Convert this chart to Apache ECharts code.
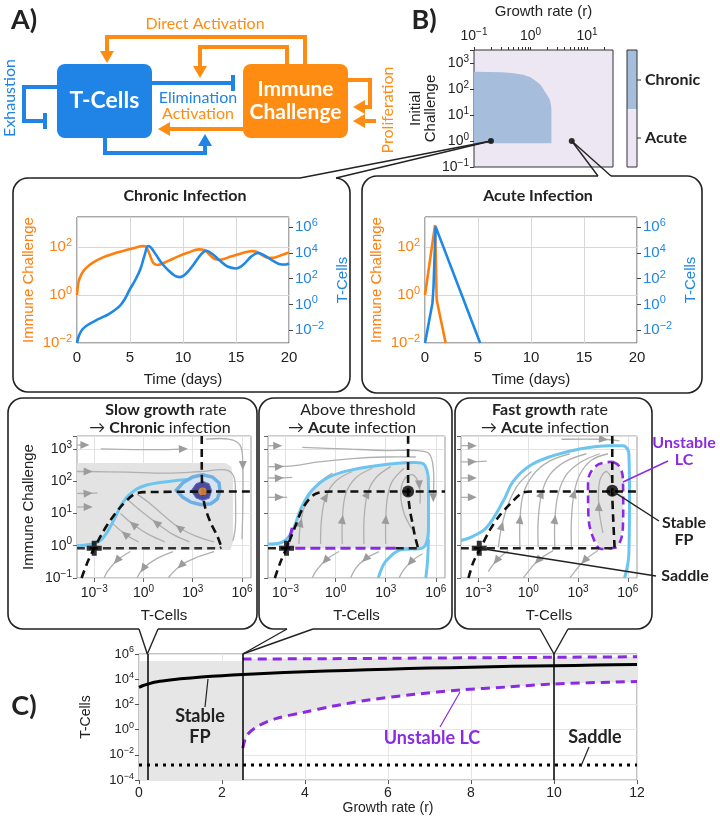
<!DOCTYPE html>
<html><head><meta charset="utf-8">
<script src="https://cdn.jsdelivr.net/npm/echarts@6/dist/echarts.min.js"></script>
<style>html,body{margin:0;padding:0;background:#fff}#c{width:720px;height:816px}</style>
</head><body><div id="c"></div>
<script>
// ---------------- DATA (log10 values) ----------------
// Panel B: heat map (x = log10 growth rate, y = log10 initial challenge)
const chronicRegion = [[-1,-0.09],[-1,2.66],[-0.5,2.64],[-0.3,2.61],[-0.13,2.55],[0.0,2.45],[0.1,2.3],[0.18,2.15],[0.25,1.91],[0.3,1.75],[0.34,1.6],[0.36,1.4],[0.37,1.22],[0.37,-0.09]];
const heatDots = [[-0.7,0],[0.73,0]];
const heatMajorTicks = [0.1,1,10];
const heatMinorTicks = [0.2,0.3,0.4,0.5,0.6,0.7,0.8,0.9,2,3,4,5,6,7,8,9,20];
// Time series [t, log10]
const chronicIC = [[0,0],[0.15,0.55],[0.4,0.85],[0.8,1.1],[1.5,1.35],[2.5,1.58],[3.5,1.73],[4.5,1.85],[5.5,1.97],[6.2,2.04],[6.5,2.02],[6.8,1.75],[7.2,1.33],[7.6,1.25],[8.5,1.4],[9.5,1.6],[10.5,1.77],[11.5,1.9],[12.0,1.88],[12.5,1.68],[13.0,1.5],[13.5,1.47],[14.5,1.6],[15.5,1.73],[16.5,1.83],[17.0,1.79],[17.5,1.65],[18.0,1.55],[18.5,1.55],[19.2,1.65],[20,1.77]];
const chronicTC = [[0,-3],[0.2,-2.4],[0.5,-1.95],[1,-1.6],[2,-1.15],[3,-0.75],[4,-0.15],[4.5,0.4],[5,1.2],[5.5,1.9],[6,2.8],[6.4,3.9],[6.7,4.55],[7.0,4.4],[7.5,3.8],[8.0,3.2],[8.5,2.75],[9.2,2.25],[9.7,2.12],[10.3,2.4],[11,3.1],[11.7,3.9],[12.2,4.17],[12.8,3.9],[13.5,3.39],[14.2,2.95],[15,2.8],[15.7,3.1],[16.4,3.7],[17.1,4.0],[17.7,3.8],[18.5,3.39],[19.3,3.1],[19.7,3.1],[20,3.2]];
const acuteIC = [[0,0],[0.95,2.92],[1.1,-0.2],[1.95,-2]];
const acuteTC = [[0,-3],[0.7,0.1],[0.8,1.3],[1.0,6.05],[5.2,-3]];
// Phase portraits (x = log10 T-cells, y = log10 immune challenge)
const p1Gray = [[-4.05,-0.13],[-4.05,2.56],[5.0,2.56],[5.35,2.45],[5.45,2.1],[5.45,0.1],[5.3,-0.13]];
const p1Cyan = [[-4.05,0.0],[-3.5,0.02],[-3,0.07],[-2.65,0.15],[-2.3,0.35],[-2.04,0.57],[-1.7,0.9],[-1.43,1.19],[-1.1,1.45],[-0.82,1.6],[-0.4,1.76],[0.2,1.88],[1.0,1.96],[2.0,2.02],[3.0,2.06],[3.85,2.05],[4.4,1.95],[4.6,1.75],[4.5,1.5],[4.1,1.32],[3.5,1.3],[2.8,1.4],[2.3,1.6]];
const p1RingOuter = [[2.0,1.72],[2.4,1.95],[3.0,2.13],[3.6,2.2],[4.2,2.13],[4.6,1.95],[4.66,1.7],[4.5,1.45],[4.1,1.3],[3.5,1.27],[2.9,1.35],[2.4,1.5],[2.0,1.72]];
const p1RingInner = [[2.9,1.7],[3.2,1.92],[3.6,2.0],[4.0,1.92],[4.16,1.7],[4.0,1.47],[3.6,1.4],[3.2,1.48],[2.9,1.7]];
const p1Center = [[3.6,1.68]];
const p1NullA = [[3.55,3.4],[3.55,2.4],[3.6,1.68],[3.75,1.2],[4.1,0.7],[4.5,0.3],[4.75,-0.05]];
const p1NullB = [[-4.05,-0.08],[4.6,-0.08],[4.75,-0.05]];
const p1NullC = [[-3.77,-1],[-3.4,-0.5],[-3,-0.08],[-2.5,0.4],[-2.04,0.77],[-1.4,1.2],[-0.62,1.58],[0,1.66],[6.55,1.68]];
const p1Saddle = [[-3,-0.08]];
const p1Streams = [
 [[-4.05,3.12],[-3.6,3.12]],
 [[-2.6,3.0],[-0.5,2.98],[1.5,2.98],[2.4,3.0]],
 [[-4.05,2.3],[-3.4,2.3],[-1,2.28],[1.5,2.25],[3.5,2.3],[5.0,2.35],[5.5,2.15],[5.6,1.6],[5.6,0.6],[5.45,0.15]],
 [[-4.05,1.62],[-3.4,1.62],[-2.8,1.64]],
 [[-4.05,1.2],[-3.4,1.2]],
 [[3.8,3.3],[5.2,3.3],[5.9,3.1],[6.05,2.5],[6.05,1.2],[6.0,0.2]],
 [[4.3,0.12],[3.2,0.3],[2.2,0.55],[1.2,0.95],[0.3,1.35],[-0.4,1.6]],
 [[2.8,0.12],[1.8,0.35],[0.8,0.7],[-0.1,1.05],[-0.9,1.4]],
 [[1.3,0.12],[0.3,0.35],[-0.6,0.65],[-1.4,1.0]],
 [[-0.3,0.12],[-1.1,0.35],[-1.9,0.7]],
 [[4.3,-0.18],[3.3,-0.35],[2.3,-0.6],[1.5,-1.0]],
 [[1.8,-0.18],[0.8,-0.4],[0,-0.7],[-0.4,-1.0]],
 [[-0.8,-0.18],[-1.6,-0.45],[-2.2,-0.8],[-2.4,-1]]
];
const p1Arrows = [1,3,1,1,1,3,2,2,2,1,2,2,1];

const p2Gray = [[-2.94,-0.08],[-2.64,0.41],[-2.04,1.19],[-1.44,1.7],[-0.44,2.12],[1.16,2.37],[3.56,2.55],[4.76,2.58],[5.36,2.48],[5.56,1.81],[5.56,0.57],[5.36,0.0],[4.76,-0.08]];
const p2CyanA = [[-4.05,0.05],[-3.24,0.1],[-2.64,0.41],[-2.04,1.19],[-1.44,1.7],[-0.44,2.12],[1.16,2.37],[3.56,2.55],[4.76,2.58],[5.36,2.48],[5.56,1.81],[5.56,0.57],[5.36,0.0],[4.76,-0.1],[3.7,-0.1]];
const p2CyanB = [[2.55,-1],[2.85,-0.6],[3.15,-0.4],[3.75,-0.15],[4.5,-0.09]];
const p2CyanC = [[5.4,-1],[5.5,-0.5],[5.56,0.2]];
const p2Purple = [[-2.6,0.55],[-2.75,0.25],[-2.94,-0.08],[3.6,-0.08]];
const p2NullA = [[4.34,3.4],[4.34,1.68],[4.45,1.1],[4.6,0.7],[4.75,0.3],[4.95,-0.1]];
const p2NullBLeft = [[-4.05,-0.08],[-2.94,-0.08]];
const p2NullBRight = [[3.6,-0.08],[4.95,-0.08]];
const p2NullC = [[-3.64,-1],[-3.3,-0.5],[-2.94,-0.07],[-2.44,0.57],[-1.94,1.19],[-1.24,1.6],[-0.24,1.68],[6.55,1.68]];
const p2Saddle = [[-2.94,-0.08]];
const p2FP = [[4.34,1.68]];
const p2Streams = [
 [[-4.05,3.1],[-3.5,3.1]],
 [[-2.0,3.05],[0.5,3.0],[3,2.95],[4.8,2.95],[5.6,2.85],[5.85,2.4],[5.85,1.5]],
 [[-4.05,2.45],[-3.4,2.45],[-2.2,2.5],[-1,2.6],[1,2.7],[3,2.75],[4.8,2.75]],
 [[-4.05,2.1],[-3.4,2.1],[-2.6,2.12]],
 [[-4.05,1.5],[-3.4,1.5],[-2.9,1.5]],
 [[-2.2,0.05],[-2.1,0.7],[-1.8,1.3],[-1.2,1.85],[-0.2,2.25]],
 [[-0.9,0.05],[-0.85,0.8],[-0.6,1.5],[0,2.0],[1,2.3]],
 [[0.4,0.05],[0.4,0.8],[0.6,1.6],[1.2,2.1],[2.2,2.4]],
 [[1.7,0.05],[1.7,0.8],[1.9,1.6],[2.4,2.1],[3.3,2.45]],
 [[3.0,0.05],[3.0,0.8],[3.1,1.5],[3.4,2.0],[4.1,2.4]],
 [[4.6,0.5],[4.1,1.0],[3.9,1.6],[4.1,2.05],[4.6,2.2],[5.0,1.9],[5.05,1.3]],
 [[2.6,-0.18],[1.8,-0.4],[1.2,-0.7],[0.9,-1.0]],
 [[0.2,-0.18],[-0.6,-0.45],[-1.2,-0.8],[-1.4,-1.0]],
 [[5.2,-0.25],[4.5,-0.5],[4.0,-0.8],[3.8,-1.0]]
];
const p2Arrows = [1,6,1,1,1,1,2,1,2,1,5,1,1,1];

const p3LC = [[5.08,2.6],[5.5,2.45],[5.7,2.06],[5.72,1.3],[5.7,0.57],[5.4,0.0],[4.9,-0.08],[4.4,-0.1],[3.9,0.26],[3.62,0.98],[3.6,1.96],[4.1,2.48],[5.08,2.6]];
const p3Cyan = [[-4.05,0.16],[-3.3,0.3],[-2.5,0.57],[-1.5,1.39],[-0.9,2.0],[0.1,2.48],[1.5,2.79],[3.1,3.0],[4.9,3.1],[5.7,3.1],[6.06,2.84],[6.1,1.6],[6.06,-0.26],[5.8,-1]];
const p3NullA = [[5.06,3.4],[5.06,1.7],[5.12,0.8],[5.2,-0.05]];
const p3NullB = [[-4.05,-0.08],[5.2,-0.08]];
const p3NullC = [[-3.6,-1],[-3.3,-0.5],[-2.9,-0.1],[-2.3,0.5],[-1.7,0.95],[-1.1,1.29],[-0.3,1.65],[0.3,1.68],[6.55,1.68]];
const p3Saddle = [[-2.95,-0.08]];
const p3FP = [[5.06,1.7]];
const p3Streams = [
 [[-4.05,3.1],[-3.4,3.1]],
 [[-4.05,2.6],[-3.4,2.6],[-2.5,2.62]],
 [[-4.05,2.1],[-3.4,2.1]],
 [[-4.05,1.5],[-3.4,1.5]],
 [[-1.8,-0.05],[-1.6,0.6],[-1.2,1.3],[-0.6,1.9],[0.2,2.3]],
 [[-0.5,-0.05],[-0.5,0.8],[-0.3,1.6],[0.3,2.2],[1.2,2.6],[2.5,2.85]],
 [[0.6,-0.05],[0.6,0.8],[0.8,1.6],[1.3,2.2],[2.2,2.6],[3.5,2.85]],
 [[1.6,-0.05],[1.6,0.8],[1.8,1.6],[2.3,2.2],[3.2,2.6],[4.3,2.85]],
 [[2.6,-0.05],[2.6,0.8],[2.75,1.6],[3.1,2.2],[3.8,2.65],[4.8,2.85]],
 [[2.0,3.3],[4.5,3.3],[5.5,3.25]],
 [[1.5,-0.15],[0.6,-0.45],[0,-0.8],[-0.3,-1]],
 [[-1.2,-0.15],[-1.9,-0.45],[-2.4,-0.8]],
 [[4.2,-0.15],[3.4,-0.45],[2.8,-0.8],[2.5,-1]],
 [[4.5,0.4],[4.25,1.2],[4.3,2.0],[4.7,2.3],[5.1,2.0]]
];
const p3Arrows = [1,1,1,1,1,1,2,1,2,1,1,1,1,1];
// Panel C (x = growth rate r, y = log10 T-cells)
const cStableFP = [[0,3.35],[0.1,3.5],[0.2,3.6],[0.4,3.78],[0.7,3.92],[1,4.03],[1.5,4.17],[2,4.28],[2.5,4.38],[3,4.46],[4,4.6],[5,4.7],[6,4.8],[7,4.88],[8,4.95],[9,5.02],[10,5.07],[11,5.12],[12,5.17]];
const cUpperLC = [[2.5,5.6],[4,5.62],[6,5.66],[8,5.7],[10,5.74],[12,5.78]];
const cLowerLC = [[2.5,-1.47],[2.6,-0.44],[2.88,0.3],[3.3,0.88],[3.98,1.38],[4.65,1.85],[5.53,2.35],[6.64,2.8],[7.74,3.15],[8.85,3.38],[9.96,3.62],[12,3.82]];
const cSaddle = [[0,-2.8],[12,-2.8]];
const cStableRegion = [[0,-4],[0,5.45],[2.5,5.45],[2.5,-4]];
const cMarkR = [0.2, 2.5, 10];

// ---------------- STYLE ----------------
const ORANGE='#ff7f0e', BLUE='#1f87e6', CYAN='#6cc5ef', PURPLE='#8a2be2', GFILL='#e3e3e3', STREAM='#b0b0b0';
const FONT='Liberation Sans', TF='Lato';
function supRich(color,size){return {b:{fontSize:size,fontFamily:FONT,color:color,lineHeight:size+4},s:{fontSize:Math.round(size*0.7),fontFamily:FONT,color:color,verticalAlign:'top',lineHeight:Math.round(size*0.75)}};}
function powFmt(v){const n=Math.round(v); if(Math.abs(v-n)>1e-6) return ''; return '{b|10}{s|'+(n<0?'\u2212'+(-n):n)+'}';}
function polySeries(list,xi,yi,style,z){return {type:'custom',xAxisIndex:xi,yAxisIndex:yi,z:z||1,silent:true,data:list.map(()=>[0,0]),renderItem:(p,api)=>({type:'polygon',shape:{points:list[p.dataIndex].map(q=>api.coord(q))},style:style})};}
function streamSeries(list,arrows,xi,yi){return {type:'custom',xAxisIndex:xi,yAxisIndex:yi,z:2,silent:true,clip:true,data:list.map(()=>[0,0]),renderItem:(p,api)=>{
  const pts=list[p.dataIndex].map(q=>api.coord(q)); const k=arrows[p.dataIndex];
  const a=k<pts.length-1?pts[k]:pts[k-1], b=k<pts.length-1?pts[k+1]:pts[k];
  let dx=b[0]-a[0],dy=b[1]-a[1]; const L=Math.hypot(dx,dy)||1; dx/=L; dy/=L;
  const c=pts[k], tip=[c[0]+dx*5,c[1]+dy*5], bs=[c[0]-dx*4,c[1]-dy*4];
  const l=[bs[0]-dy*4,bs[1]+dx*4], r=[bs[0]+dy*4,bs[1]-dx*4];
  return {type:'group',children:[{type:'polyline',shape:{points:pts,smooth:0.35},style:{stroke:STREAM,lineWidth:1.3,fill:null}},{type:'polygon',shape:{points:[tip,l,r]},style:{fill:'#9c9c9c'}}]};}};}
function lineS(data,xi,yi,color,width,type,z,smooth){return {type:'line',xAxisIndex:xi,yAxisIndex:yi,data:data,showSymbol:false,symbol:'none',smooth:smooth===undefined?0.3:smooth,lineStyle:{color:color,width:width,type:type||'solid'},z:z||3,silent:true};}
const PLUS='path://M4,0 H8 V4 H12 V8 H8 V12 H4 V8 H0 V4 H4 Z';
function scat(data,xi,yi,sym,size,color,z){return {type:'scatter',xAxisIndex:xi,yAxisIndex:yi,data:data,symbol:sym,symbolSize:size,itemStyle:{color:color},z:z||6,silent:true};}
const DASH=[8,5];
const NOLINE={show:false,onZero:false};

function phaseX(gi){return {type:'value',gridIndex:gi,min:-4.05,max:6.55,axisLine:NOLINE,
  axisTick:{show:true,customValues:[-3,0,3,6],length:4,lineStyle:{color:'#666'}},
  axisLabel:{customValues:[-3,0,3,6],formatter:powFmt,rich:supRich('#222',14),margin:6},
  splitLine:{show:true,lineStyle:{color:'#e2e2e2'}},
  name:'T-Cells',nameLocation:'middle',nameGap:30,nameTextStyle:{fontSize:15,fontFamily:FONT,color:'#222'}};}
function phaseY(gi,labels){return {type:'value',gridIndex:gi,min:-1,max:3.4,interval:1,axisLine:NOLINE,
  axisTick:{show:true,length:4,lineStyle:{color:'#666'}},
  axisLabel:{show:labels,formatter:powFmt,rich:supRich('#222',14),margin:5},
  splitLine:{show:true,lineStyle:{color:'#e2e2e2'}},
  name:labels?'Immune Challenge':'',nameLocation:'middle',nameGap:41,nameTextStyle:{fontSize:15,fontFamily:FONT,color:'#222'}};}
function tsX(gi){return {type:'value',gridIndex:gi,min:0,max:20,interval:5,axisLine:NOLINE,axisTick:{show:false},
  axisLabel:{fontSize:15,fontFamily:FONT,color:'#222',margin:7},splitLine:{show:true,lineStyle:{color:'#d8d8d8'}},
  name:'Time (days)',nameLocation:'middle',nameGap:29,nameTextStyle:{fontSize:15,fontFamily:FONT,color:'#222'}};}
function tsYL(gi){return {type:'value',gridIndex:gi,min:-2,max:3.25,interval:2,position:'left',axisLine:NOLINE,axisTick:{show:false},
  axisLabel:{formatter:powFmt,rich:supRich(ORANGE,15),margin:5},splitLine:{show:true,lineStyle:{color:'#d8d8d8'}},
  name:'Immune Challenge',nameLocation:'middle',nameGap:41,nameTextStyle:{fontSize:15,fontFamily:FONT,color:ORANGE}};}
function tsYR(gi){return {type:'value',gridIndex:gi,min:-3,max:6.8,position:'right',axisLine:NOLINE,
  axisTick:{show:true,customValues:[-2,0,2,4,6],length:4,lineStyle:{color:'#444'}},
  axisLabel:{customValues:[-2,0,2,4,6],formatter:powFmt,rich:supRich(BLUE,15),margin:6},splitLine:{show:false},
  name:'T-Cells',nameLocation:'middle',nameGap:46,nameTextStyle:{fontSize:15,fontFamily:FONT,color:BLUE}};}

const chart = echarts.init(document.getElementById('c'),null,{renderer:'canvas',width:720,height:816});
const option = {
  animation:false,
  grid:[
    {left:474,top:50,width:139,height:117,show:true,borderColor:'#333',borderWidth:1,backgroundColor:'#ece7f2'},
    {left:77,top:217,width:212,height:126,show:true,borderColor:'#555',borderWidth:1},
    {left:425,top:217,width:212,height:126,show:true,borderColor:'#555',borderWidth:1},
    {left:77,top:436,width:174,height:142,show:true,borderColor:'#999',borderWidth:1},
    {left:268,top:436,width:177,height:142,show:true,borderColor:'#999',borderWidth:1},
    {left:461,top:436,width:176,height:142,show:true,borderColor:'#999',borderWidth:1},
    {left:139,top:654,width:498,height:129,show:true,borderColor:'#888',borderWidth:1}
  ],
  xAxis:[
    {type:'value',gridIndex:0,position:'top',min:-1,max:1.46,axisLine:NOLINE,
      axisTick:{customValues:heatMajorTicks.concat(heatMinorTicks).map(v=>Math.log10(v)),length:3,lineStyle:{color:'#333'}},
      axisLabel:{customValues:heatMajorTicks.map(v=>Math.log10(v)),formatter:powFmt,rich:supRich('#222',14),margin:5},splitLine:{show:false},
      name:'Growth rate (r)',nameLocation:'middle',nameGap:31,nameTextStyle:{fontSize:15,fontFamily:FONT,color:'#222'}},
    tsX(1), tsX(2), phaseX(3), phaseX(4), phaseX(5),
    {type:'value',gridIndex:6,min:0,max:12,interval:2,axisLine:NOLINE,axisTick:{length:4,lineStyle:{color:'#555'}},
      axisLabel:{fontSize:14,fontFamily:FONT,color:'#222',margin:6},splitLine:{show:true,lineStyle:{color:'#e6e6e6'}},
      name:'Growth rate (r)',nameLocation:'middle',nameGap:20,nameTextStyle:{fontSize:14,fontFamily:FONT,color:'#222'}}
  ],
  yAxis:[
    {type:'value',gridIndex:0,min:-1,max:3.5,interval:1,axisLine:NOLINE,axisTick:{length:4,lineStyle:{color:'#333'}},
      axisLabel:{formatter:powFmt,rich:supRich('#222',14),margin:5},splitLine:{show:false},
      name:'Initial\nChallenge',nameLocation:'middle',nameGap:34,nameTextStyle:{fontSize:15,lineHeight:15,fontFamily:FONT,color:'#222'}},
    tsYL(1), tsYR(1), tsYL(2), tsYR(2),
    phaseY(3,true), phaseY(4,false), phaseY(5,false),
    {type:'value',gridIndex:6,min:-4,max:6,interval:2,axisLine:NOLINE,axisTick:{length:4,lineStyle:{color:'#555'}},
      axisLabel:{formatter:powFmt,rich:supRich('#222',13),margin:5},splitLine:{show:true,lineStyle:{color:'#e6e6e6'}},
      name:'T-Cells',nameLocation:'middle',nameGap:46,nameTextStyle:{fontSize:14,fontFamily:FONT,color:'#222'}}
  ],
  series:[
    // Panel B
    polySeries([chronicRegion],0,0,{fill:'#a6bddb'},1),
    scat(heatDots,0,0,'circle',6,'#000'),
    // Time series
    lineS(chronicIC,1,1,ORANGE,2.6,'solid',3,0.35),
    lineS(chronicTC,1,2,BLUE,2.6,'solid',3,0.35),
    lineS(acuteIC,2,3,ORANGE,2.6,'solid',3,0),
    lineS(acuteTC,2,4,BLUE,2.6,'solid',3,0),
    // Phase 1
    polySeries([p1Gray],3,5,{fill:GFILL},1),
    streamSeries(p1Streams,p1Arrows,3,5),
    lineS(p1Cyan,3,5,CYAN,3,'solid',3,0.4),
    polySeries([p1RingOuter],3,5,{fill:'#d6e3f2',stroke:'#6fb0e2',lineWidth:3.5},4),
    polySeries([p1RingInner],3,5,{fill:'#4a4c9c',stroke:'#6474c4',lineWidth:1},4),
    lineS(p1NullA,3,5,'#111',2.6,DASH,5,0.3),
    lineS(p1NullB,3,5,'#333',2.4,DASH,5,0.3),
    lineS(p1NullC,3,5,'#111',2.6,DASH,5,0.3),
    scat(p1Center,3,5,'circle',8,'#f39237',7),
    scat(p1Saddle,3,5,PLUS,15,'#000',7),
    // Phase 2
    polySeries([p2Gray],4,6,{fill:GFILL},1),
    streamSeries(p2Streams,p2Arrows,4,6),
    lineS(p2CyanA,4,6,CYAN,3,'solid',3,0.4),
    lineS(p2CyanB,4,6,CYAN,3,'solid',3,0.4),
    lineS(p2CyanC,4,6,CYAN,3,'solid',3,0.4),
    lineS(p2Purple,4,6,PURPLE,3,[10,5],5,0.2),
    lineS(p2NullA,4,6,'#111',2.6,DASH,5,0.3),
    lineS(p2NullBLeft,4,6,'#222',2.4,DASH,5,0),
    lineS(p2NullBRight,4,6,'#222',2.4,DASH,5,0),
    lineS(p2NullC,4,6,'#111',2.6,DASH,5,0.3),
    scat(p2FP,4,6,'circle',12,'#000',7),
    scat(p2Saddle,4,6,PLUS,15,'#000',7),
    // Phase 3
    polySeries([p3LC],5,7,{fill:GFILL},1),
    streamSeries(p3Streams,p3Arrows,5,7),
    lineS(p3Cyan,5,7,CYAN,3,'solid',3,0.4),
    lineS(p3LC,5,7,PURPLE,2.6,DASH,4,0.4),
    lineS(p3NullA,5,7,'#111',2.6,DASH,5,0.3),
    lineS(p3NullB,5,7,'#222',2.4,DASH,5,0.3),
    lineS(p3NullC,5,7,'#111',2.6,DASH,5,0.3),
    scat(p3FP,5,7,'circle',12,'#000',7),
    scat(p3Saddle,5,7,PLUS,15,'#000',7),
    // Panel C
    polySeries([cStableRegion, cLowerLC.concat(cUpperLC.slice().reverse())],6,8,{fill:'#e6e6e6'},1),
    Object.assign(lineS(cStableFP,6,8,'#000',3,'solid',4,0.3),{markLine:{silent:true,symbol:'none',label:{show:false},lineStyle:{color:'#000',width:1.5,type:'solid'},data:cMarkR.map(r=>({xAxis:r}))}}),
    lineS(cUpperLC,6,8,PURPLE,3,[9,6],4,0.3),
    lineS(cLowerLC,6,8,PURPLE,3,[9,6],4,0.3),
    lineS(cSaddle,6,8,'#000',3,[3,5],4,0)
  ]
};
chart.setOption(option);

// ---------------- DECORATIONS ----------------
function px(gi,pt){return chart.convertToPixel({gridIndex:gi},pt);}
const K='#222';
function L(pts,color,w,z){return {type:'polyline',shape:{points:pts},style:{stroke:color||K,lineWidth:w||1.4,fill:null},z:z||50,silent:true};}
function P(pts,color,z){return {type:'polygon',shape:{points:pts},style:{fill:color},z:z||50,silent:true};}
function T(x,y,text,o){o=o||{};return {type:'text',x:x,y:y,rotation:o.rot||0,z:60,silent:true,style:Object.assign({text:text,fontSize:15,fontFamily:TF,fill:K,align:'center',verticalAlign:'middle'},o.style||{})};}
function R(x,y,w,h,r,style){return {type:'rect',shape:{x:x,y:y,width:w,height:h,r:r},style:style,z:40,silent:true};}
const box={fill:'none',stroke:K,lineWidth:1.6};
const g=[];
// panel letters
g.push(T(24,20,'A)',{style:{fontSize:27,fontWeight:'bold'}}));
g.push(T(424,20,'B)',{style:{fontSize:27,fontWeight:'bold'}}));
g.push(T(24,706,'C)',{style:{fontSize:27,fontWeight:'bold'}}));
// Panel A diagram
const OR2='#ff8c12', BL2='#1f84e6';
g.push(R(57,64,95,74,8,{fill:BL2}));
g.push(R(243,64,105,74,8,{fill:OR2}));
g.push(T(104.5,101,'T-Cells',{style:{fill:'#fff',fontSize:23,fontWeight:'bold'}}));
g.push(T(295.5,101,'Immune\nChallenge',{style:{fill:'#fff',fontSize:21,fontWeight:'bold',lineHeight:23}}));
g.push(T(205,24,'Direct Activation',{style:{fill:OR2,fontSize:16}}));
g.push(L([[305,64],[305,37],[107,37],[107,52]],OR2,4));
g.push(P([[100,51],[114,51],[107,63]],OR2));
g.push(L([[287,64],[287,47],[200,47],[200,67]],OR2,4));
g.push(P([[193,66],[207,66],[200,78]],OR2));
g.push(L([[152,83],[233,83]],BL2,4));
g.push(L([[233,75],[233,91]],BL2,4));
g.push(T(198,98,'Elimination',{style:{fill:BL2,fontSize:16}}));
g.push(T(198,114,'Activation',{style:{fill:OR2,fontSize:16}}));
g.push(L([[243,129],[170,129]],OR2,4));
g.push(P([[170,122],[170,136],[158,129]],OR2));
g.push(L([[105,138],[105,153],[205,153],[205,145]],BL2,4));
g.push(P([[198,146],[212,146],[205,134]],BL2));
g.push(L([[57,87],[24,87],[24,121],[45,121]],BL2,4));
g.push(L([[45,113],[45,129]],BL2,4));
g.push(T(10,98,'Exhaustion',{rot:Math.PI/2,style:{fill:BL2,fontSize:16}}));
g.push(L([[348,80],[370,80],[370,107],[364,107]],OR2,4));
g.push(P([[365,100],[365,114],[353,107]],OR2));
g.push(L([[376,121],[364,121]],OR2,4));
g.push(P([[365,114],[365,128],[353,121]],OR2));
g.push(T(388,110,'Proliferation',{rot:Math.PI/2,style:{fill:OR2,fontSize:16}}));
// colorbar
g.push(R(627,50,10,59,0,{fill:'#a6bddb'}));
g.push(R(627,109,10,58,0,{fill:'#ece7f2'}));
g.push(R(627,50,10,117,0,{fill:'none',stroke:'#333',lineWidth:1}));
g.push(L([[637,80],[641,80]],'#333',1));
g.push(L([[637,138],[641,138]],'#333',1));
g.push(T(645,80,'Chronic',{style:{fontWeight:'bold',align:'left',fontSize:16}}));
g.push(T(645,138,'Acute',{style:{fontWeight:'bold',align:'left',fontSize:16}}));
// time series boxes
g.push(R(13,178,337,214,15,box));
g.push(R(362,176,340,217,15,box));
g.push(T(185,196,'Chronic Infection',{style:{fontWeight:'bold',fontSize:16}}));
g.push(T(538,196,'Acute Infection',{style:{fontWeight:'bold',fontSize:16}}));
const d1=px(0,heatDots[0]), d2=px(0,heatDots[1]);
g.push(L([[300,178],[336,178]],'#fff',3,45));
g.push(L([[300,178],d1],K,1.4));g.push(L([[336,178],d1],K,1.4));
g.push(L([[598,176],[611,176]],'#fff',3,45));
g.push(L([[598,176],d2],K,1.4));g.push(L([[611,176],d2],K,1.4));
// phase boxes
g.push(R(8,398,249,231,15,box));
g.push(R(259,398,193,231,15,box));
g.push(R(455,398,197,231,15,box));
const tR={b:{fontWeight:'bold',fontSize:16,fontFamily:TF}};
g.push(T(166,410,'{b|Slow growth} rate',{style:{rich:tR,fontSize:16}}));
g.push(T(160,428,'\u2192 {b|Chronic} infection',{style:{rich:tR,fontSize:16}}));
g.push(T(358,410,'Above threshold',{style:{rich:tR,fontSize:16}}));
g.push(T(352,428,'\u2192 {b|Acute} infection',{style:{rich:tR,fontSize:16}}));
g.push(T(550,410,'{b|Fast growth} rate',{style:{rich:tR,fontSize:16}}));
g.push(T(545,428,'\u2192 {b|Acute} infection',{style:{rich:tR,fontSize:16}}));
// annotations plot 3
const fp3=px(5,p3FP[0]), sd3=px(5,p3Saddle[0]);
g.push(T(684,451,'Unstable\nLC',{style:{fill:PURPLE,fontWeight:'bold',fontSize:16,lineHeight:17}}));
g.push(L([[668,461],[623,482]],PURPLE,1.4));
g.push(T(684,531,'Stable\nFP',{style:{fontWeight:'bold',fontSize:16,lineHeight:17}}));
g.push(L([fp3,[659,521]],K,1.4));
g.push(T(685,576,'Saddle',{style:{fontWeight:'bold',fontSize:16}}));
g.push(L([sd3,[656,576]],K,1.4));
// callouts from panel C markers to phase boxes
const m1=px(6,[cMarkR[0],6]), m2=px(6,[cMarkR[1],6]), m3=px(6,[cMarkR[2],6]);
g.push(L([[139,629],[158,629]],'#fff',3,45));
g.push(L([[139,629],m1],K,1.4));g.push(L([[158,629],m1],K,1.4));
g.push(L([[287,629],[313,629]],'#fff',3,45));
g.push(L([[287,629],m2],K,1.4));g.push(L([[313,629],m2],K,1.4));
g.push(L([[540,629],[568,629]],'#fff',3,45));
g.push(L([[540,629],m3],K,1.4));g.push(L([[568,629],m3],K,1.4));
// panel C labels
g.push(T(200,727,'Stable\nFP',{style:{fontWeight:'bold',fontSize:18,lineHeight:21}}));
g.push(L([[205,707],[208,679]],K,1.2));
g.push(T(432,738,'Unstable LC',{style:{fontWeight:'bold',fontSize:18,fill:PURPLE}}));
g.push(L([[440,727],[460,692]],PURPLE,1.2));
g.push(T(595,737,'Saddle',{style:{fontWeight:'bold',fontSize:18}}));
g.push(L([[589,747],[581,766]],K,1.2));
chart.setOption({graphic:{elements:g}});
</script></body></html>
